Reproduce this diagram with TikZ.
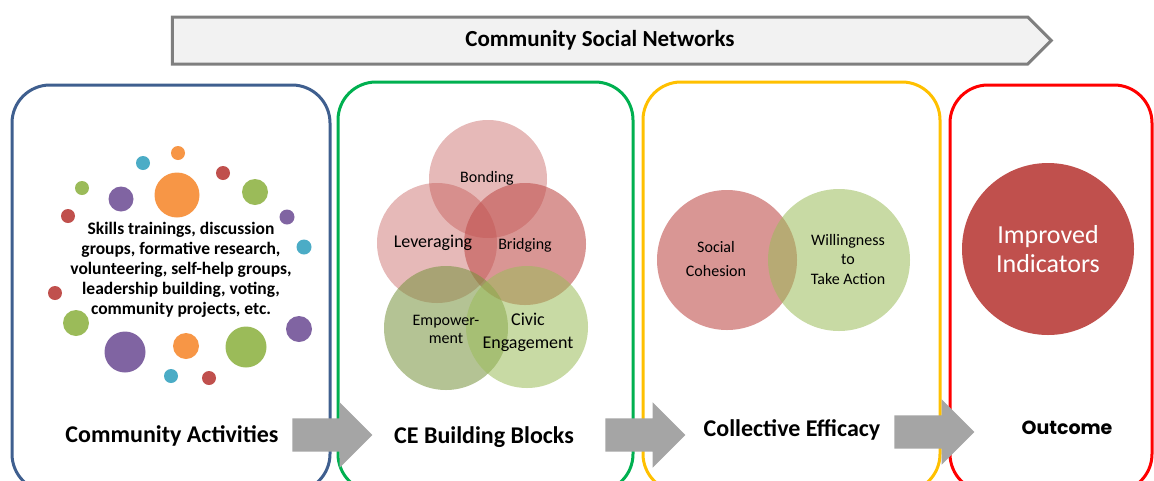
\documentclass[tikz,border=0pt]{standalone}
\usepackage{fontspec}
\setmainfont{Carlito}
\newfontfamily\outcomefont{Poppins}
\usetikzlibrary{positioning, shapes.arrows, shapes.symbols}

\definecolor{boxblue}{HTML}{3F5F8F}
\definecolor{boxgreen}{HTML}{00B050}
\definecolor{boxyellow}{HTML}{FFC000}
\definecolor{boxred}{HTML}{FF0000}
\definecolor{dotorange}{HTML}{F79646}
\definecolor{dotpurple}{HTML}{8064A2}
\definecolor{dotgreen}{HTML}{9BBB59}
\definecolor{dotcyan}{HTML}{4BACC6}
\definecolor{dotred}{HTML}{C0504D}
\definecolor{darkolive}{HTML}{76923C}
\definecolor{arrowgray}{HTML}{A5A5A5}
\definecolor{bannerfill}{HTML}{F2F2F2}
\definecolor{bannerline}{HTML}{7F7F7F}

\begin{document}
\begin{tikzpicture}[x=1pt, y=-1pt,
    every node/.style={align=center, inner sep=0pt, outer sep=0pt},
    stage/.style={rectangle, draw, line width=3pt, rounded corners=38pt, anchor=north west},
    title/.style={font=\fontsize{24}{28}\selectfont\bfseries},
    dot/.style={circle, minimum size=#1},
    bubble/.style={circle, minimum size=#1, fill opacity=0.5},
    small/.style={font=\fontsize{16}{18}\selectfont},
    flow/.style={single arrow, fill=arrowgray, minimum height=80pt, inner xsep=0pt,
        inner ysep=16.5pt, single arrow head extend=16pt, single arrow tip angle=90},
]
\useasboundingbox (0,0) rectangle (1154,480);
\clip (0,0) rectangle (1154,480);

% banner on top
\node[signal, signal to=east, signal pointer angle=90, draw=bannerline, fill=bannerfill,
    line width=3pt, minimum width=879pt, minimum height=47pt,
    font=\fontsize{23}{26}\selectfont\bfseries] (network) at (600,40.5) {Community Social Networks};

% the four stages
\node[stage, draw=boxblue, minimum width=318pt, minimum height=407pt] (activities) at (12,85) {};
\node[stage, draw=boxgreen, minimum width=295pt, minimum height=410pt] (blocks) at (338,82) {};
\node[stage, draw=boxyellow, minimum width=297pt, minimum height=410pt] (efficacy) at (643,82) {};
\node[stage, draw=boxred, minimum width=202pt, minimum height=407pt] (outcome) at (950,85) {};

% dots round the activities
\node[dot=14pt, fill=dotorange] (o1) at (178,153) {};
\node[dot=14pt, fill=dotcyan] (c1) at (143,163) {};
\node[dot=14pt, fill=dotred] (r1) at (223,173) {};
\node[dot=14pt, fill=dotgreen] (g1) at (82,188) {};
\node[dot=25pt, fill=dotpurple] (p1) at (121,199) {};
\node[dot=45pt, fill=dotorange] (o2) at (177,195) {};
\node[dot=26pt, fill=dotgreen] (g2) at (255,192) {};
\node[dot=14pt, fill=dotred] (r2) at (68,216) {};
\node[dot=15pt, fill=dotpurple] (p2) at (287,217) {};
\node[dot=15pt, fill=dotcyan] (c2) at (304,247) {};
\node[dot=14pt, fill=dotred] (r3) at (55,293) {};
\node[dot=26pt, fill=dotgreen] (g3) at (76,323) {};
\node[dot=26pt, fill=dotpurple] (p3) at (299,329) {};
\node[dot=41pt, fill=dotpurple] (p4) at (125,352) {};
\node[dot=26pt, fill=dotorange] (o3) at (186,346) {};
\node[dot=41pt, fill=dotgreen] (g4) at (246,347) {};
\node[dot=14pt, fill=dotcyan] (c3) at (171,376) {};
\node[dot=14pt, fill=dotred] (r4) at (209,378) {};

\node[font=\fontsize{17.5}{20}\selectfont\bfseries] (tasks) at (181,270)
    {Skills trainings, discussion\\groups, formative research,\\volunteering, self-help groups,\\leadership building, voting,\\community projects, etc.};

% building blocks
\node[bubble=118pt, fill=dotred, fill opacity=0.4] (bond) at (488,179) {};
\node[bubble=120pt, fill=dotred, fill opacity=0.4] (lever) at (437,243) {};
\node[bubble=122pt, fill=dotred, fill opacity=0.6] (bridge) at (525,244) {};
\node[bubble=124pt, fill=darkolive, fill opacity=0.55] (power) at (446,328) {};
\node[bubble=122pt, fill=dotgreen, fill opacity=0.55] (civic) at (527,327) {};

\node[small] at (487,178) {Bonding};
\node[font=\fontsize{18}{20}\selectfont] at (433,243) {Leveraging};
\node[small] at (525,245) {Bridging};
\node[small] at (446,329) {Empower-\\ment};
\node[font=\fontsize{18}{23}\selectfont] at (528,332) {Civic\\Engagement};

% collective efficacy
\node[bubble=140pt, fill=dotred, fill opacity=0.6] (cohesion) at (727,260) {};
\node[bubble=142pt, fill=dotgreen, fill opacity=0.55] (willing) at (839,260) {};
\node[font=\fontsize{16}{24}\selectfont] at (716,259) {Social\\Cohesion};
\node[font=\fontsize{16}{19.5}\selectfont] at (848,259) {Willingness\\to\\Take Action};

% outcome
\node[circle, minimum size=172pt, fill=dotred, text=white,
    font=\fontsize{26}{29}\selectfont] (improved) at (1048,249) {Improved\\Indicators};

% stage titles
\node[title] at (172,436) {Community Activities};
\node[title] at (484,437) {CE Building Blocks};
\node[title] at (792,430) {Collective Efficacy};
\node[font=\outcomefont\fontsize{19}{23}\selectfont\bfseries] at (1067,428) {Outcome};

% arrows between stages
\node[flow] (a1) at (324,435) {};
\node[flow] (a2) at (637,435) {};
\node[flow] (a3) at (926,432) {};

\end{tikzpicture}
\end{document}
